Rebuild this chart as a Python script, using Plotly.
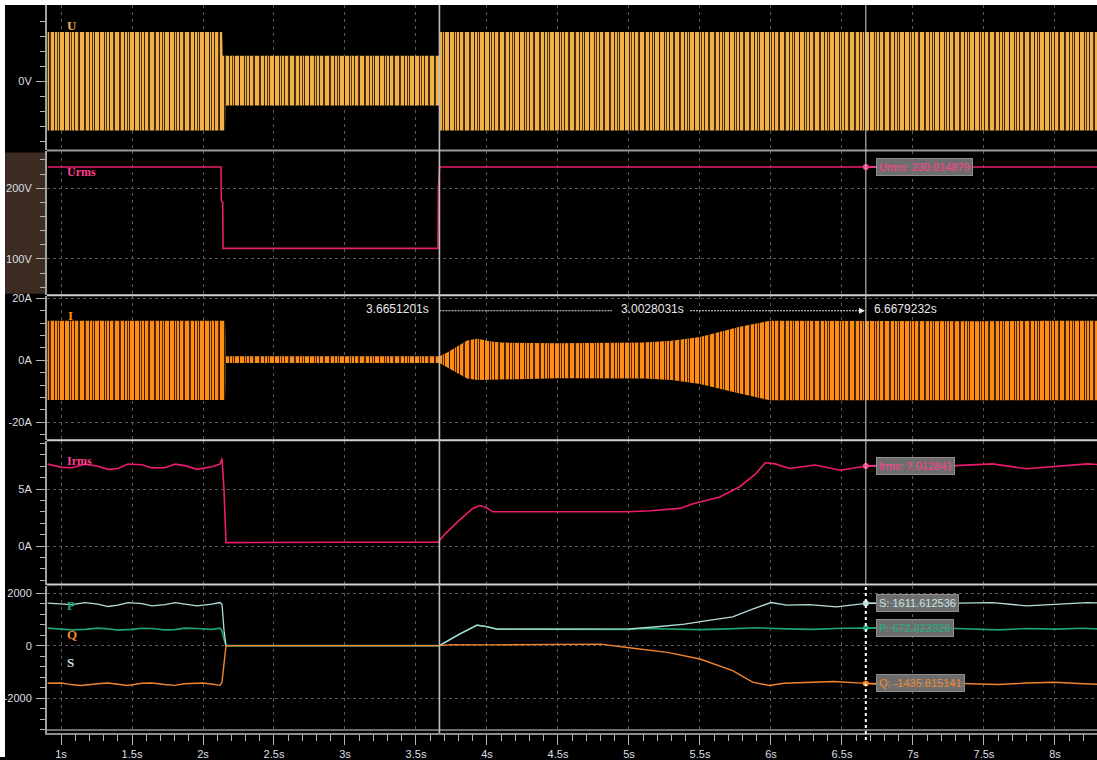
import plotly.graph_objects as go

# ---------------- page geometry (pixels) ----------------
W, H = 1097, 760
ML, MT = 47, 5
PLOT_BOTTOM = 736
PW = W - ML
PH = PLOT_BOTTOM - MT


def fx(px):
    return (px - ML) / PW


def fy(py):
    return (PLOT_BOTTOM - py) / PH


def tx(px):  # time value at a pixel column (for decorations only)
    return X_RANGE[0] + (px - ML) * (X_RANGE[1] - X_RANGE[0]) / PW


# ---------------- data ----------------
X_RANGE = [0.9014, 8.296]
X_TICKS = [1, 1.5, 2, 2.5, 3, 3.5, 4, 4.5, 5, 5.5, 6, 6.5, 7, 7.5, 8]
X_TICK_TEXT = ["1s", "1.5s", "2s", "2.5s", "3s", "3.5s", "4s", "4.5s",
               "5s", "5.5s", "6s", "6.5s", "7s", "7.5s", "8s"]

CURSOR_T = [3.6651201, 6.6679232]
DELTA_T = 3.0028031

# U waveform envelope (V)
U_UP_T = [0.906, 2.135, 2.138, 3.662, 3.666, 8.296]
U_UP = [328, 328, 169, 169, 328, 328]
U_LO_T = [0.906, 2.155, 2.158, 3.662, 3.666, 8.296]
U_LO = [-328, -328, -162, -162, -328, -328]

# Urms (V)
URMS_T = [0.906, 2.127, 2.129, 2.139, 2.141, 3.655, 3.658, 3.666, 8.296]
URMS_V = [230, 230, 182, 180, 115, 115, 200, 230, 230]

# I waveform envelope (A)
I_T = [0.906, 2.155, 2.162, 3.665, 3.72, 3.80, 3.86, 3.93, 4.03, 4.10, 4.5,
       5.1, 5.3, 5.5, 5.78, 5.99, 6.5, 7.0, 7.5, 8.0, 8.296]
I_UP = [12.7, 12.7, 1.3, 1.3, 2.5, 4.8, 6.4, 6.9, 6.0, 5.7, 5.5,
        5.7, 6.3, 7.5, 10.8, 12.7, 12.6, 12.7, 12.6, 12.7, 12.7]
I_LO = [-12.8, -12.8, -0.9, -0.9, -2.2, -4.4, -5.9, -6.4, -6.2, -6.1, -5.8,
        -5.9, -6.4, -7.7, -10.7, -12.9, -12.8, -12.9, -12.8, -12.9, -12.9]

# Irms (A)
IRMS_T = [0.906, 1.007, 1.077, 1.169, 1.261, 1.331, 1.401, 1.472, 1.570, 1.641,
          1.732, 1.803, 1.873, 1.958, 2.063, 2.120, 2.134, 2.148, 2.162, 2.5,
          3.0, 3.655, 3.70, 3.80, 3.90, 3.95, 3.99, 4.04, 4.5, 5.0,
          5.15, 5.36, 5.45, 5.64, 5.78, 5.89, 5.96, 6.03, 6.13, 6.31,
          6.49, 6.67, 6.85, 7.0, 7.15, 7.3, 7.56, 7.8, 8.0, 8.23, 8.296]
IRMS_V = [7.18, 6.90, 6.86, 7.18, 7.00, 6.72, 6.80, 7.18, 7.12, 6.85,
          6.86, 7.18, 7.05, 6.72, 6.95, 7.18, 7.70, 4.90, 0.30, 0.33,
          0.33, 0.33, 1.0, 2.2, 3.3, 3.55, 3.40, 3.00, 2.98, 3.0,
          3.1, 3.3, 3.7, 4.3, 5.2, 6.3, 7.3, 7.2, 6.8, 7.1,
          6.65, 7.01, 7.15, 7.0, 6.85, 7.05, 7.2, 6.77, 6.95, 7.2, 7.15]

# S, P, Q
S_T = [0.906, 1.007, 1.077, 1.169, 1.261, 1.331, 1.401, 1.472, 1.570, 1.641,
       1.732, 1.803, 1.873, 1.958, 2.063, 2.120, 2.134, 2.148, 2.162, 3.665,
       3.80, 3.93, 4.0, 4.07, 4.5, 5.0, 5.2, 5.39, 5.55, 5.73,
       5.87, 6.00, 6.11, 6.27, 6.46, 6.67, 6.85, 7.0, 7.2, 7.4,
       7.56, 7.8, 8.0, 8.23, 8.296]
S_V = [1620, 1577, 1560, 1640, 1580, 1489, 1540, 1640, 1600, 1515,
       1560, 1640, 1590, 1515, 1580, 1640, 1560, 580, 0, 0,
       420, 780, 720, 630, 630, 640, 720, 818, 950, 1098,
       1387, 1640, 1538, 1564, 1477, 1611, 1620, 1590, 1610, 1620,
       1640, 1515, 1580, 1640, 1630]

P_T = [0.906, 1.0, 1.08, 1.17, 1.26, 1.33, 1.40, 1.5, 1.57, 1.64,
       1.73, 1.80, 1.87, 1.96, 2.06, 2.12, 2.134, 2.148, 2.162, 3.665,
       3.80, 3.93, 4.0, 4.07, 4.5, 5.0, 5.1, 5.3, 5.5, 5.7,
       5.9, 6.1, 6.3, 6.5, 6.67, 6.85, 7.0, 7.2, 7.4, 7.6,
       7.8, 8.0, 8.2, 8.296]
P_V = [667, 640, 600, 620, 667, 640, 590, 620, 660, 650,
       600, 610, 667, 650, 620, 667, 560, 250, 0, 0,
       420, 780, 720, 630, 625, 620, 650, 640, 610, 640,
       680, 640, 620, 660, 672, 650, 620, 670, 640, 600,
       650, 630, 660, 640]

Q_T = [0.906, 1.0, 1.07, 1.14, 1.26, 1.33, 1.40, 1.47, 1.57, 1.64,
       1.73, 1.80, 1.87, 2.0, 2.07, 2.12, 2.134, 2.148, 2.162, 3.665,
       3.75, 4.0, 4.3, 4.5, 4.8, 5.03, 5.27, 5.5, 5.73, 5.87,
       5.99, 6.09, 6.25, 6.44, 6.67, 6.85, 7.0, 7.2, 7.4, 7.6,
       7.8, 8.0, 8.2, 8.296]
Q_V = [-1430, -1420, -1480, -1515, -1450, -1420, -1470, -1515, -1430, -1420,
       -1480, -1510, -1450, -1420, -1470, -1510, -1380, -700, 0, 0,
       40, 30, 50, 40, 60, -100, -254, -507, -947, -1390,
       -1515, -1428, -1400, -1364, -1435, -1500, -1440, -1400, -1450, -1480,
       -1420, -1390, -1450, -1470]

# cursor read-outs
URMS_CUR = 230.014879
IRMS_CUR = 7.012841
S_CUR = 1611.612536
P_CUR = 672.823326
Q_CUR = -1435.815141

# axis ticks per panel
U_TICKS, U_TICK_TEXT = [0], ["0V"]
URMS_TICKS, URMS_TICK_TEXT = [100, 200], ["100V", "200V"]
I_TICKS, I_TICK_TEXT = [-20, 0, 20], ["-20A", "0A", "20A"]
IRMS_TICKS, IRMS_TICK_TEXT = [0, 5], ["0A", "5A"]
PQS_TICKS, PQS_TICK_TEXT = [-2000, 0, 2000], ["-2000", "0", "2000"]

# ---------------- styles ----------------
C_U = "#f2b248"
C_I = "#ff8c14"
C_RMS = "#ea1c6e"
C_RMS_TXT = "#ff3f8e"
C_S = "#b4dcdc"
C_P = "#1ea374"
C_Q = "#ec8431"
GRID = "#5a5a5a"
FONT = "Liberation Sans, Arial, sans-serif"

PANEL_PX = [(5, 151), (152, 296), (297, 442), (443, 587), (588, 736)]
Y_RANGES = [[-461, 507], [49.3, 252.1], [-25.78, 20.77], [-3.38, 9.19], [-3322, 2284]]

fig = go.Figure()


def band(tu, up, tl, lo, color, n, overlay=False):
    xs = list(tu) + list(reversed(tl))
    ys = list(up) + list(reversed(lo))
    if overlay:
        pat = dict(shape="|", bgcolor="rgba(0,0,0,0)", fgcolor="rgba(20,10,0,0.75)",
                   size=7, solidity=0.14, fillmode="replace")
        fc = "rgba(0,0,0,0)"
    else:
        pat = dict(shape="|", bgcolor=color, fgcolor="rgba(25,12,0,0.85)",
                   size=5, solidity=0.2, fillmode="replace")
        fc = color
    return go.Scatter(
        x=xs, y=ys, fill="toself", mode="lines",
        line=dict(width=0, color=color), fillcolor=fc, fillpattern=pat,
        xaxis=f"x{n}", yaxis=f"y{n}", hoverinfo="skip", showlegend=False)


fig.add_trace(band(U_UP_T, U_UP, U_LO_T, U_LO, C_U, 1))
fig.add_trace(band(U_UP_T, U_UP, U_LO_T, U_LO, C_U, 1, overlay=True))
fig.add_trace(go.Scatter(x=URMS_T, y=URMS_V, mode="lines", line=dict(color=C_RMS, width=1.6),
                         xaxis="x2", yaxis="y2", showlegend=False))
fig.add_trace(band(I_T, I_UP, I_T, I_LO, C_I, 3))
fig.add_trace(band(I_T, I_UP, I_T, I_LO, C_I, 3, overlay=True))
fig.add_trace(go.Scatter(x=IRMS_T, y=IRMS_V, mode="lines", line=dict(color=C_RMS, width=1.6),
                         xaxis="x4", yaxis="y4", showlegend=False))
fig.add_trace(go.Scatter(x=P_T, y=P_V, mode="lines", line=dict(color=C_P, width=1.6),
                         xaxis="x5", yaxis="y5", showlegend=False))
fig.add_trace(go.Scatter(x=S_T, y=S_V, mode="lines", line=dict(color=C_S, width=1.3),
                         xaxis="x5", yaxis="y5", showlegend=False))
fig.add_trace(go.Scatter(x=Q_T, y=Q_V, mode="lines", line=dict(color=C_Q, width=1.4),
                         xaxis="x5", yaxis="y5", showlegend=False))

# cursor markers
for n, val, col in [(2, URMS_CUR, C_RMS_TXT), (4, IRMS_CUR, C_RMS_TXT),
                    (5, S_CUR, C_S), (5, P_CUR, C_P), (5, Q_CUR, C_Q)]:
    fig.add_trace(go.Scatter(x=[CURSOR_T[1]], y=[val], mode="markers",
                             marker=dict(color=col, size=6),
                             xaxis=f"x{n}", yaxis=f"y{n}", showlegend=False))

# ---------------- axes ----------------
layout = dict(
    width=W, height=H,
    margin=dict(l=ML, r=0, t=MT, b=H - PLOT_BOTTOM, pad=0),
    paper_bgcolor="#000000", plot_bgcolor="#000000",
    showlegend=False, hovermode=False,
    font=dict(family=FONT, size=11, color="#dcdfe4"),
)

ytick_sets = [
    (U_TICKS, U_TICK_TEXT, [v for v in range(-400, 401, 100)]),
    (URMS_TICKS, URMS_TICK_TEXT, [v for v in range(60, 241, 20)]),
    (I_TICKS, I_TICK_TEXT, [v for v in range(-24, 21, 4)]),
    (IRMS_TICKS, IRMS_TICK_TEXT, [v for v in range(-3, 10, 1)]),
    (PQS_TICKS, PQS_TICK_TEXT, [v for v in range(-3200, 2001, 400)]),
]

x_minor = [round(0.9 + 0.1 * i, 1) for i in range(75)]

for i in range(5):
    n = i + 1
    top, bot = PANEL_PX[i]
    xa = dict(
        range=X_RANGE, domain=[0, 1], anchor=f"y{n}",
        tickmode="array", tickvals=X_TICKS,
        showgrid=True, gridcolor=GRID, griddash="3px,4px", gridwidth=1,
        zeroline=False,
    )
    if n < 5:
        xa.update(showticklabels=False, ticks="", showline=False)
    else:
        xa.update(ticktext=X_TICK_TEXT, ticks="outside", ticklen=10, tickwidth=1,
                  tickcolor="#b4b4b4", showline=True, linecolor="#8c8c8c", linewidth=2,
                  tickfont=dict(size=11, color="#dcdfe4"),
                  minor=dict(tickvals=x_minor, ticks="outside", ticklen=6,
                             tickcolor="#b4b4b4", showgrid=False))
    layout[f"xaxis{n}" if n > 1 else "xaxis"] = xa

    tv, tt, mv = ytick_sets[i]
    ya = dict(
        domain=[fy(bot), fy(top)], range=Y_RANGES[i], anchor=f"x{n}",
        tickmode="array", tickvals=tv, ticktext=tt,
        ticks="outside", ticklen=9, tickwidth=1, tickcolor="#b4b4b4",
        showline=True, linecolor="#a0a0a0", linewidth=2,
        showgrid=True, gridcolor=GRID, griddash="3px,3px", gridwidth=1,
        zeroline=False, ticklabelstandoff=2,
        tickfont=dict(size=11, color="#dcdfe4"),
        minor=dict(tickvals=mv, ticks="outside", ticklen=5, tickcolor="#b4b4b4", showgrid=False),
    )
    layout[f"yaxis{n}" if n > 1 else "yaxis"] = ya

fig.update_layout(**layout)

# ---------------- shapes ----------------
shapes = []
# brown strip for the selected channel
shapes.append(dict(type="rect", xref="paper", yref="paper", x0=fx(5), x1=fx(46),
                   y0=fy(295), y1=fy(153), fillcolor="#3b2b20", line=dict(width=0), layer="below"))
# panel separators
for py, col in [(151, "#9a9a9a"), (296.5, "#d0d0d0"), (442, "#d0d0d0"), (587, "#d0d0d0"), (733, "#d8d8d8")]:
    shapes.append(dict(type="line", xref="paper", yref="paper", x0=0, x1=1, y0=fy(py), y1=fy(py),
                       line=dict(color=col, width=2 if py != 733 else 1.2), layer="above"))
# cursor lines
shapes.append(dict(type="line", xref="x5", yref="paper", x0=CURSOR_T[0], x1=CURSOR_T[0],
                   y0=0, y1=1, line=dict(color="#bdbdbd", width=1.6), layer="above"))
shapes.append(dict(type="line", xref="x5", yref="paper", x0=CURSOR_T[1], x1=CURSOR_T[1],
                   y0=fy(588), y1=1, line=dict(color="#c4c4c4", width=1.1), layer="above"))
shapes.append(dict(type="line", xref="x5", yref="paper", x0=CURSOR_T[1], x1=CURSOR_T[1],
                   y0=fy(743), y1=fy(588), line=dict(color="#ffffff", width=2, dash="dot"), layer="above"))
# delta-time dashed guide in I panel
yd = 15.95
shapes.append(dict(type="line", xref="x3", yref="y3", x0=CURSOR_T[0], x1=tx(612), y0=yd, y1=yd,
                   line=dict(color="#e0e0e0", width=1, dash="2px,1px"), layer="above"))
shapes.append(dict(type="line", xref="x3", yref="y3", x0=tx(690), x1=tx(860), y0=yd, y1=yd,
                   line=dict(color="#e0e0e0", width=1, dash="2px,1px"), layer="above"))
# white page border (top and left)
shapes.append(dict(type="rect", xref="paper", yref="paper", x0=fx(0), x1=fx(W), y0=fy(5), y1=fy(0),
                   fillcolor="#ffffff", line=dict(width=0), layer="above"))
shapes.append(dict(type="rect", xref="paper", yref="paper", x0=fx(0), x1=fx(5), y0=fy(H), y1=fy(0),
                   fillcolor="#ffffff", line=dict(width=0), layer="above"))
fig.update_layout(shapes=shapes)

# ---------------- annotations ----------------
ann = []
SERIF = "Liberation Serif, Times New Roman, serif"
for text, px, py, col in [("U", 65, 26, C_U), ("Urms", 65, 172.5, C_RMS_TXT), ("I", 66, 317, C_I),
                          ("Irms", 65, 463, C_RMS_TXT), ("P", 65, 608, C_P), ("Q", 65, 637, C_Q),
                          ("S", 65, 665.5, "#d0e4e4")]:
    ann.append(dict(xref="paper", yref="paper", x=fx(px), y=fy(py), text=f"<b>{text}</b>",
                    showarrow=False, xanchor="left", yanchor="middle",
                    font=dict(family=SERIF, size=13 if len(text) == 1 else 12, color=col)))

# measurement texts
ann.append(dict(xref="x3", yref="y3", x=CURSOR_T[0], y=16.6, text="%.7fs" % CURSOR_T[0],
                showarrow=False, xanchor="right", xshift=-8, font=dict(size=12, color="#e8e8e8")))
ann.append(dict(xref="x3", yref="y3", x=tx(652), y=16.6, text="%.7fs" % DELTA_T,
                showarrow=False, xanchor="center", font=dict(size=12, color="#e8e8e8")))
ann.append(dict(xref="x3", yref="y3", x=CURSOR_T[1], y=16.6, text="%.7fs" % CURSOR_T[1],
                showarrow=False, xanchor="left", xshift=6, font=dict(size=12, color="#e8e8e8")))
ann.append(dict(xref="x3", yref="y3", x=tx(865), y=yd, ax=-7, ay=0, text="", showarrow=True,
                arrowhead=2, arrowsize=1, arrowwidth=1.2, arrowcolor="#e8e8e8"))

# cursor read-out boxes
for n, label, val, col in [(2, "Urms", URMS_CUR, C_RMS_TXT), (4, "Irms", IRMS_CUR, C_RMS_TXT),
                           (5, "S", S_CUR, "#c6e4e4"), (5, "P", P_CUR, "#22b27e"),
                           (5, "Q", Q_CUR, "#f08a34")]:
    ann.append(dict(xref=f"x{n}", yref=f"y{n}", x=CURSOR_T[1], y=val,
                    text="%s: %.6f" % (label, val), showarrow=True, ax=10, ay=0,
                    xanchor="left", yanchor="middle", arrowhead=0, arrowwidth=1.5,
                    arrowcolor=col, standoff=0,
                    bgcolor="rgba(118,118,118,0.92)", bordercolor="#8e8e8e", borderwidth=1,
                    borderpad=2, font=dict(size=11, color=col)))

fig.update_layout(annotations=ann)

fig.write_html("out.html", include_plotlyjs=True, config={"displayModeBar": False},
               post_script="document.body.style.margin='0';document.body.style.overflow='hidden';")
